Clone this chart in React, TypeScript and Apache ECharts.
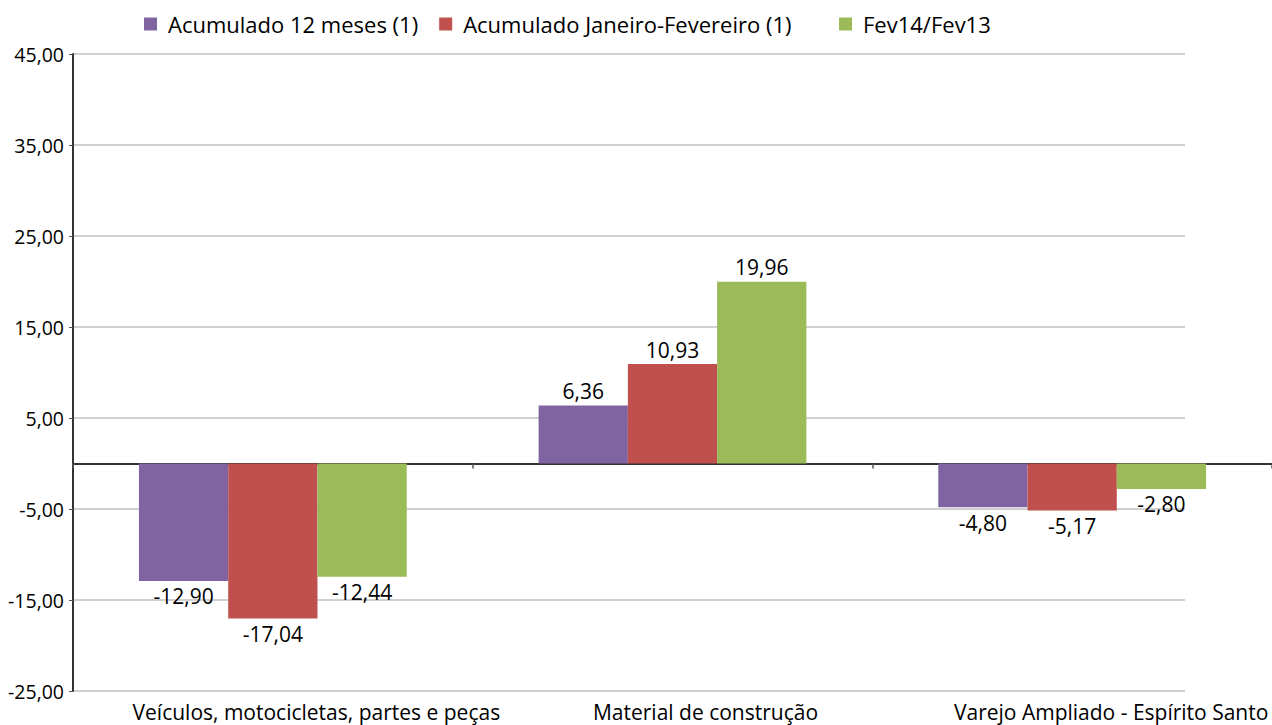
import React, { useEffect, useRef } from "react";
import * as echarts from "echarts";

const categories = [
  "Veículos, motocicletas, partes e peças",
  "Material de construção",
  "Varejo Ampliado - Espírito Santo",
];
const seriesNames = [
  "Acumulado 12 meses (1)",
  "Acumulado Janeiro-Fevereiro (1)",
  "Fev14/Fev13",
];
const acum12 = [-12.9, 6.36, -4.8];
const acumJanFev = [-17.04, 10.93, -5.17];
const fev14Fev13 = [-12.44, 19.96, -2.8];
const colors = ["#8064A2", "#C0504D", "#9BBB59"];
const labelShift = [87, 66, 78];

const FONT = "'Open Sans', sans-serif";
const fmt = (v: number) => v.toFixed(2).replace(".", ",");

export default function App() {
  const ref = useRef<HTMLDivElement>(null);
  useEffect(() => {
    if (!ref.current) return;
    const chart = echarts.init(ref.current, undefined, { renderer: "svg" });
    const allSeries = [acum12, acumJanFev, fev14Fev13];
    const series = allSeries.map((vals, i) => ({
      name: seriesNames[i],
      type: "bar",
      xAxisIndex: 1,
      yAxisIndex: 1,
      barGap: "0%",
      barCategoryGap: "33%",
      itemStyle: { color: colors[i] },
      data: vals.map((v) => ({
        value: v,
        label: {
          show: true,
          position: v < 0 ? "bottom" : "top",
          distance: v < 0 ? 5 : 4,
          formatter: () => fmt(v),
          color: "#000",
          fontSize: 21,
          fontFamily: FONT,
        },
      })),
    }));
    const legendBase = {
      top: 8,
      itemWidth: 13,
      itemHeight: 13,
      itemGap: 21,
      icon: "rect",
      textStyle: { fontSize: 22, color: "#000", fontFamily: FONT, padding: [0, 0, 0, 6] },
    };
    chart.setOption({
      animation: false,
      textStyle: { fontFamily: FONT },
      legend: [
        { ...legendBase, left: 139, data: seriesNames.slice(0, 2) },
        { ...legendBase, left: 834, data: seriesNames.slice(2) },
      ],
      grid: [
        { left: 73, right: 87, top: 54, bottom: 34 },
        { left: 73, right: -6, top: 54, bottom: 34 },
      ],
      xAxis: [
        { type: "category", gridIndex: 0, data: categories, show: false },
        {
          type: "category",
          gridIndex: 1,
          data: categories,
          axisLine: { show: true, onZero: true, lineStyle: { color: "#333", width: 2 } },
          axisTick: { show: true, length: 5, lineStyle: { color: "#555", width: 1.5 } },
          axisLabel: { show: false },
        },
        {
          type: "category",
          gridIndex: 1,
          data: categories.map((c, i) => ({
            value: c,
            textStyle: { padding: [0, 0, 0, labelShift[i]] },
          })),
          position: "bottom",
          axisLine: { show: false, onZero: false },
          axisTick: { show: false },
          axisLabel: {
            show: true,
            interval: 0,
            hideOverlap: false,
            margin: 10,
            fontSize: 21,
            color: "#000",
            fontFamily: FONT,
          },
        },
      ],
      yAxis: [
        {
          type: "value",
          gridIndex: 0,
          min: -25,
          max: 45,
          interval: 10,
          axisLine: { show: true, lineStyle: { color: "#333", width: 2 } },
          axisTick: { show: true, length: 4, lineStyle: { color: "#555" } },
          axisLabel: {
            formatter: (v: number) => fmt(v),
            fontSize: 19.5,
            color: "#000",
            margin: 9,
            fontFamily: FONT,
          },
          splitLine: { show: true, lineStyle: { color: "#c0c0c0", width: 1.5 } },
        },
        {
          type: "value",
          gridIndex: 1,
          min: -25,
          max: 45,
          interval: 10,
          show: false,
          splitLine: { show: false },
        },
      ],
      series,
    });
    return () => chart.dispose();
  }, []);
  return (
    <div
      ref={ref}
      style={{ position: "fixed", left: 0, top: 0, width: 1272, height: 725, background: "#fff" }}
    />
  );
}
